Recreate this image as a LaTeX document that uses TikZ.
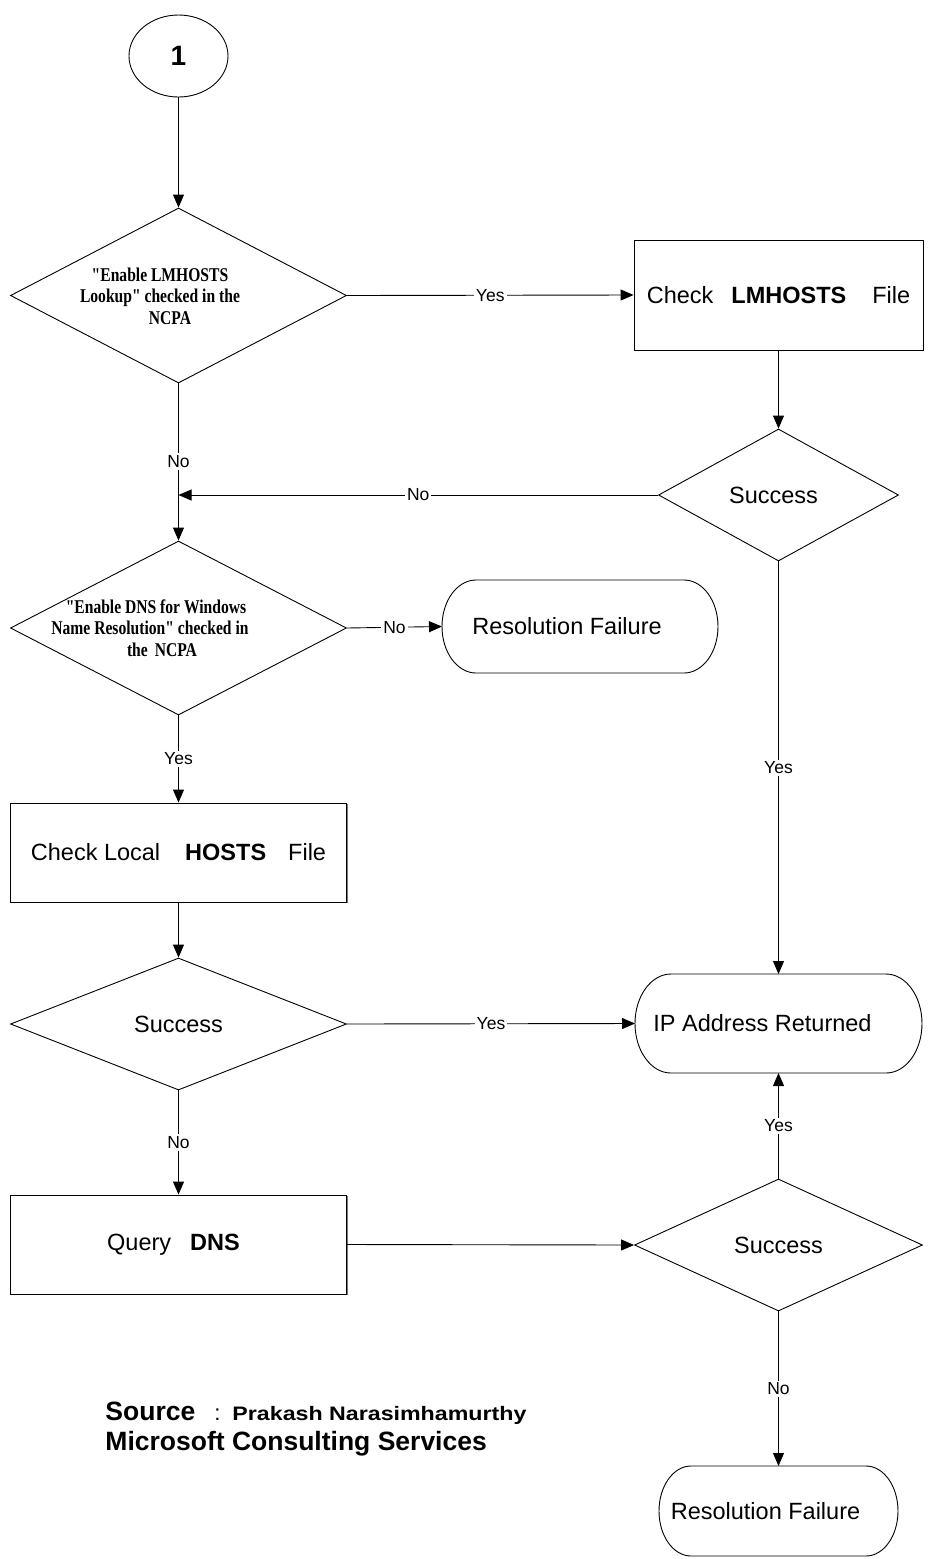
\documentclass[tikz,border=0pt]{standalone}
\usepackage{graphicx}
\usepackage{fontspec}
\setmainfont{Liberation Sans}
\newfontfamily\condserif[FakeStretch=0.8]{Liberation Serif}
\usetikzlibrary{arrows.meta,shapes.geometric,shadows}
\newcommand\termoutline[3]{%
  \draw ([xshift=#2]#1.north west) -- ([xshift=-#2]#1.north east)
    arc[start angle=90,end angle=-90,x radius=#2,y radius=#3]
    -- ([xshift=#2]#1.south west)
    arc[start angle=270,end angle=90,x radius=#2,y radius=#3] -- cycle;}
\begin{document}
\begin{tikzpicture}[x=1pt,y=-1pt,
  line width=0.9pt,
  arr/.style={-{Triangle[length=13pt,width=11pt]}},
  lab/.style={fill=white,inner sep=2pt,font=\fontsize{17.5}{19}\selectfont},
  mainfont/.style={font=\fontsize{23.5}{26}\selectfont},
  box/.style={draw,rectangle,fill=white,inner sep=0pt,mainfont,
    drop shadow={shadow xshift=1.2pt,shadow yshift=-1.2pt,fill=black!55,opacity=1}},
  dia/.style={draw,diamond,fill=white,inner sep=0pt,shape aspect=2,mainfont},
  term/.style={rectangle,inner sep=0pt,outer sep=0pt,mainfont},
  qtext/.style={font=\condserif\bfseries\fontsize{19.5}{21.5}\selectfont,align=center,inner sep=0pt},
]
\useasboundingbox (0,0) rectangle (928,1559);

% start connector
\node[draw,ellipse,minimum width=99pt,minimum height=82pt,inner sep=0pt,
      font=\bfseries\fontsize{28}{30}\selectfont] (c1) at (178.5,56) {1};

% left column
\node[dia,minimum width=336pt,minimum height=175pt] (d1) at (178.5,295.5) {};
\node[qtext] (d1t) at (160,296) {"Enable LMHOSTS\\Lookup" checked in the\\\hspace*{20pt}NCPA};

\coordinate (j) at (178.5,495);

\node[dia,minimum width=336pt,minimum height=174pt] (d2) at (178.5,628) {};
\node[qtext] (d2t) at (150,628) {\hspace*{12pt}"Enable DNS for Windows\\Name Resolution" checked in\\\hspace*{24pt}the\hspace{7pt}NCPA};

\node[box,minimum width=336pt,minimum height=99pt] (hosts) at (178.5,852.5)
  {Check Local\hspace{25pt}\textbf{HOSTS}\hspace{22pt}File};

\node[dia,minimum width=336pt,minimum height=132pt] (s2) at (178.5,1024) {Success};

\node[box,minimum width=336pt,minimum height=99pt] (dns) at (178.5,1244.5)
  {Query\hspace{19pt}\textbf{DNS}\hspace*{10pt}};

% right column
\node[box,minimum width=289pt,minimum height=110pt] (lm) at (778.5,295)
  {Check\hspace{18pt}\textbf{LMHOSTS}\hspace{26pt}File};

\node[dia,minimum width=240pt,minimum height=132pt] (s1) at (778.5,495) {Success\hspace*{10pt}};

\node[term,minimum width=276pt,minimum height=93pt] (rf1) at (580,626.5)
  {Resolution Failure\hspace*{26pt}};
\termoutline{rf1}{34pt}{46.5pt}

\node[term,minimum width=287pt,minimum height=99pt] (ip) at (778.5,1023.5)
  {IP Address Returned\hspace*{32pt}};
\termoutline{ip}{36pt}{49.5pt}

\node[dia,minimum width=288pt,minimum height=132pt] (s3) at (778.5,1245) {Success};

\node[term,minimum width=239pt,minimum height=90pt] (rf2) at (778.5,1511)
  {Resolution Failure\hspace*{26pt}};
\termoutline{rf2}{32pt}{45pt}

% connectors
\draw[arr] (c1.south) -- (d1.north);
\draw[arr] (d1.east) -- node[lab]{Yes} (lm.west);
\draw (d1.south) -- node[lab,pos=0.7]{No} (j);
\draw[arr] (j) -- (d2.north);
\draw[arr] (lm.south) -- (s1.north);
\draw[arr] (s1.west) -- node[lab]{No} (j);
\draw[arr] (s1.south) -- node[lab]{Yes} (ip.north);
\draw[arr] (d2.east) -- node[lab]{No} (rf1.west);
\draw[arr] (d2.south) -- node[lab]{Yes} (hosts.north);
\draw[arr] (hosts.south) -- (s2.north);
\draw[arr] (s2.east) -- node[lab]{Yes} (ip.west);
\draw[arr] (s2.south) -- node[lab]{No} (dns.north);
\draw[arr] (dns.east) -- (s3.west);
\draw[arr] (s3.north) -- node[lab]{Yes} (ip.south);
\draw[arr] (s3.south) -- node[lab]{No} (rf2.north);

% source text
\node[anchor=base west,inner sep=0pt,font=\bfseries\fontsize{26.5}{30}\selectfont] (src) at (105,1420) {Source};
\node[anchor=base west,inner sep=0pt,font=\fontsize{22}{26}\selectfont] (colon) at (214,1420) {:};
\node[anchor=base west,inner sep=0pt,font=\bfseries\fontsize{19.5}{22}\selectfont] (auth) at (232,1420)
  {\scalebox{1.19}[1]{Prakash Narasimhamurthy}};
\node[anchor=base west,inner sep=0pt,font=\bfseries\fontsize{26.5}{30}\selectfont] (mcs) at (105,1450) {Microsoft Consulting Services};
\end{tikzpicture}
\end{document}
